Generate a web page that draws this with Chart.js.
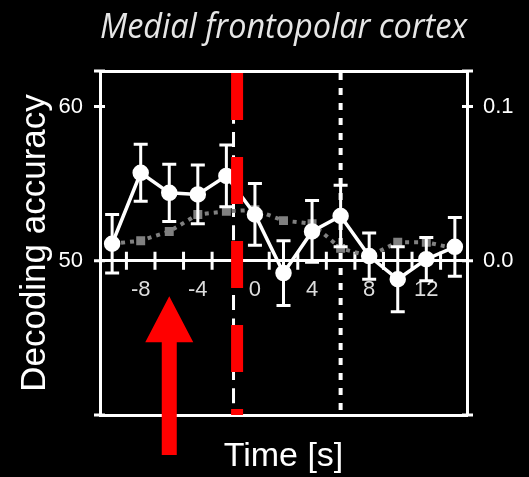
<!DOCTYPE html>
<html>
<head>
<meta charset="utf-8">
<script src="https://cdn.jsdelivr.net/npm/chart.js@4.4.1/dist/chart.umd.min.js"></script>
<style>
    html, body { margin: 0; padding: 0; background: #000; }
    #Chart { display: block; }
</style>
</head>
<body>
<canvas id="Chart" width="529" height="477"></canvas>
<script>
// time relative to decision, s
const timeSec = [-10, -8, -6, -4, -2, 0, 2, 4, 6, 8, 10, 12, 14];
const accuracy = [51.1, 55.7, 54.4, 54.3, 55.5, 53.0, 49.2, 51.9, 52.9, 50.3, 48.8, 50.1, 50.9];
const sem = [1.9, 1.85, 1.85, 1.9, 2.0, 2.0, 2.1, 2.0, 2.0, 1.5, 2.1, 1.4, 1.9];
// grey curve, right axis
const baseline = [0.011, 0.013, 0.019, 0.030, 0.032, 0.033, 0.026, 0.024, 0.008, 0.003, 0.012, 0.012, 0.008];

const xLabels = [-8, -4, 0, 4, 8, 12];
const xMarks = [-9, -7, -5, -3, -1, 1, 3, 5, 7, 9, 11, 13];
const yTicks = [50, 60];
const y2Ticks = [0, 0.1];

const xMin = -10.85, xMax = 14.85;
const yMin = 40, yMax = 62.3;
const y2Min = -0.1, y2Max = 0.123;

const cueTime = -1.5;      // white dashed line
const decisionTime = -1.25; // red dashed line
const endTime = 6;         // white dotted line
const arrowTime = -6, arrowTip = 47.7, arrowTail = 37.4;

Chart.defaults.font.family = "'Liberation Sans', Arial, sans-serif";

function vline(t) {
    return [{x: t, y: yMax}, {x: t, y: yMin}];
}

// error bars of the white curve
const errorBars = {
    id: 'errorBars',
    afterDatasetDraw(chart, args) {
        if (args.index !== 1) return;
        const x = chart.scales.x, y = chart.scales.y, ctx = chart.ctx;
        ctx.save();
        ctx.strokeStyle = '#fff';
        ctx.lineWidth = 3;
        timeSec.forEach((t, i) => {
            const px = x.getPixelForValue(t);
            const top = y.getPixelForValue(accuracy[i] + sem[i]);
            const bot = y.getPixelForValue(accuracy[i] - sem[i]);
            ctx.beginPath();
            ctx.moveTo(px, top); ctx.lineTo(px, bot);
            ctx.moveTo(px - 7, top); ctx.lineTo(px + 7, top);
            ctx.moveTo(px - 7, bot); ctx.lineTo(px + 7, bot);
            ctx.stroke();
        });
        ctx.restore();
    }
};

// tick marks that cross the axis lines
const crossTicks = {
    id: 'crossTicks',
    beforeDatasetsDraw(chart) {
        const {x, y, y2} = chart.scales;
        const ctx = chart.ctx;
        const area = chart.chartArea;
        ctx.save();
        ctx.strokeStyle = '#fff';
        ctx.lineWidth = 3;
        ctx.beginPath();
        [yMin, 50, 60, yMax].forEach(v => {
            const py = y.getPixelForValue(v);
            ctx.moveTo(area.left - 6, py); ctx.lineTo(area.left + 5, py);
        });
        [y2Min, 0, 0.1, y2Max].forEach(v => {
            const py = y2.getPixelForValue(v);
            ctx.moveTo(area.right - 5, py); ctx.lineTo(area.right + 6, py);
        });
        const zy = y.getPixelForValue(50);
        xMarks.forEach(t => {
            const px = x.getPixelForValue(t);
            ctx.moveTo(px, zy - 9); ctx.lineTo(px, zy + 9);
        });
        ctx.stroke();
        ctx.restore();
    }
};

// red arrow under the plot
const arrow = {
    id: 'arrow',
    afterDraw(chart) {
        const ctx = chart.ctx;
        const px = chart.scales.x.getPixelForValue(arrowTime);
        const tip = chart.scales.y.getPixelForValue(arrowTip);
        const tail = chart.scales.y.getPixelForValue(arrowTail);
        ctx.save();
        ctx.fillStyle = '#ff0000';
        ctx.beginPath();
        ctx.moveTo(px, tip);
        ctx.lineTo(px + 24, tip + 46);
        ctx.lineTo(px + 7.5, tip + 46);
        ctx.lineTo(px + 7.5, tail);
        ctx.lineTo(px - 7.5, tail);
        ctx.lineTo(px - 7.5, tip + 46);
        ctx.lineTo(px - 24, tip + 46);
        ctx.closePath();
        ctx.fill();
        ctx.restore();
    }
};

const canvas = document.getElementById('Chart');
const ctx = canvas.getContext('2d');
const chart = new Chart(ctx, {
    type: 'scatter',
    data: {
        datasets: [
            {
                label: 'decision',
                data: vline(decisionTime),
                showLine: true,
                borderColor: '#ff0000',
                borderWidth: 12,
                borderDash: [47, 37],
                borderDashOffset: 82,
                borderCapStyle: 'butt',
                pointRadius: 0
            },
            {
                label: 'accuracy',
                data: timeSec.map((t, i) => ({x: t, y: accuracy[i]})),
                showLine: true,
                borderColor: '#fff',
                borderWidth: 3.5,
                pointRadius: 6.5,
                pointBackgroundColor: '#fff',
                pointBorderColor: '#fff'
            },
            {
                label: 'baseline',
                yAxisID: 'y2',
                data: timeSec.map((t, i) => ({x: t, y: baseline[i]})),
                showLine: true,
                borderColor: '#808080',
                borderWidth: 4,
                borderDash: [4, 5],
                borderCapStyle: 'butt',
                pointStyle: 'rect',
                pointRadius: 3.5,
                pointBackgroundColor: '#808080',
                pointBorderColor: '#808080'
            },
            {
                label: 'cue',
                data: vline(cueTime),
                showLine: true,
                borderColor: '#fff',
                borderWidth: 3,
                borderDash: [15, 8.3],
                borderDashOffset: 8.9,
                borderCapStyle: 'butt',
                pointRadius: 0
            },
            {
                label: 'end',
                data: vline(endTime),
                showLine: true,
                borderColor: '#fff',
                borderWidth: 4,
                borderDash: [7, 8],
                borderDashOffset: 13,
                borderCapStyle: 'butt',
                pointRadius: 0
            }
        ]
    },
    options: {
        responsive: false,
        animation: false,
        layout: { padding: 0 },
        plugins: {
            legend: { display: false },
            tooltip: { enabled: false },
            title: {
                display: true,
                fullSize: false,
                text: 'Medial frontopolar cortex',
                color: '#e6e6e6',
                font: { family: "'Open Sans', sans-serif", size: 34, style: 'italic', weight: 'normal' },
                padding: { top: 8, bottom: 22.2 }
            }
        },
        scales: {
            x: {
                type: 'linear',
                position: { y: 50 },
                min: xMin,
                max: xMax,
                afterBuildTicks: s => { s.ticks = xLabels.map(v => ({value: v})); },
                grid: { display: false, drawTicks: false },
                border: { color: '#fff', width: 3 },
                ticks: { color: '#dddddd', font: { size: 22 }, padding: 16, maxRotation: 0, autoSkip: false }
            },
            xb: {
                type: 'linear',
                position: 'bottom',
                min: xMin,
                max: xMax,
                afterFit: s => { s.height = 62; },
                grid: { display: false, drawTicks: false },
                border: { color: '#fff', width: 3 },
                ticks: { display: false },
                title: { display: true, text: 'Time [s]', color: '#fff', font: { size: 34 }, padding: 0 }
            },
            xt: {
                type: 'linear',
                position: 'top',
                min: xMin,
                max: xMax,
                afterFit: s => { s.height = 0; },
                grid: { display: false, drawTicks: false },
                border: { color: '#fff', width: 3 },
                ticks: { display: false }
            },
            y: {
                position: 'left',
                min: yMin,
                max: yMax,
                afterBuildTicks: s => { s.ticks = yTicks.map(v => ({value: v})); },
                afterFit: s => { s.width = 100; },
                grid: { display: false, drawTicks: false },
                border: { color: '#fff', width: 3 },
                ticks: { color: '#fff', font: { size: 22 }, padding: 17 },
                title: { display: true, text: 'Decoding accuracy', color: '#fff', font: { size: 35 }, padding: { top: 14 } }
            },
            y2: {
                position: 'right',
                min: y2Min,
                max: y2Max,
                afterBuildTicks: s => { s.ticks = y2Ticks.map(v => ({value: v})); },
                afterFit: s => { s.width = 62; },
                grid: { display: false, drawTicks: false },
                border: { color: '#fff', width: 3 },
                ticks: { color: '#fff', font: { size: 22 }, padding: 16, callback: v => v.toFixed(1) }
            }
        }
    },
    plugins: [errorBars, crossTicks, arrow]
});
</script>
</body>
</html>
